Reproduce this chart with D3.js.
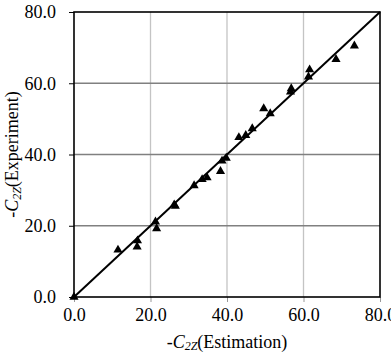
<!DOCTYPE html>
<html>
<head>
<meta charset="utf-8">
<script src="https://cdn.jsdelivr.net/npm/d3@7"></script>
<style>
  body { margin: 0; background: #fff; }
  svg text { font-family: "Liberation Serif", "Times New Roman", serif; fill: #000; }
</style>
</head>
<body>
<div id="chart"></div>
<script>
const estimation = [0.0, 11.5, 16.5, 16.6, 21.3, 21.6, 26.2, 26.5, 31.4, 33.5, 34.8, 38.3, 38.7, 39.8,
    43.1, 44.9, 46.6, 49.6, 51.3, 56.6, 56.8, 61.3, 61.6, 68.5, 73.3];
const experiment = [0.0, 13.2, 14.1, 15.8, 21.1, 19.2, 25.9, 25.5, 31.3, 33.0, 33.5, 35.3, 38.2, 39.0,
    44.8, 45.4, 47.3, 52.9, 51.5, 57.6, 58.5, 61.8, 63.8, 66.7, 70.5];
const tickValues = [0, 20, 40, 60, 80];
const fitLine = [[0, 0], [80, 80]];

function createScatter(elementId) {
    const margin = { top: 12, right: 11, bottom: 56, left: 74 };
    const width = 391 - margin.left - margin.right;
    const height = 353 - margin.top - margin.bottom;

    const svg = d3.select(`#${elementId}`)
        .append("svg")
        .attr("width", width + margin.left + margin.right)
        .attr("height", height + margin.top + margin.bottom);

    const g = svg.append("g")
        .attr("transform", `translate(${margin.left},${margin.top})`);

    const x = d3.scaleLinear().domain([0, 80]).range([0, width]);
    const y = d3.scaleLinear().domain([0, 80]).range([height, 0]);

    // grid
    g.selectAll(".vgrid")
        .data(tickValues.slice(1, -1))
        .enter().append("line")
        .attr("x1", d => x(d)).attr("x2", d => x(d))
        .attr("y1", 0).attr("y2", height)
        .style("stroke", "#c4c4c4")
        .style("stroke-width", 1.3);

    g.selectAll(".hgrid")
        .data(tickValues.slice(1, -1))
        .enter().append("line")
        .attr("y1", d => y(d)).attr("y2", d => y(d))
        .attr("x1", 0).attr("x2", width)
        .style("stroke", "#808080")
        .style("stroke-width", 1.3);

    // axes
    const xAxis = g.append("g")
        .attr("transform", `translate(0,${height})`)
        .call(d3.axisBottom(x).tickValues(tickValues).tickFormat(d3.format(".1f")).tickSize(5).tickPadding(6));
    const yAxis = g.append("g")
        .call(d3.axisLeft(y).tickValues(tickValues).tickFormat(d3.format(".1f")).tickSize(5).tickPadding(13));

    [xAxis, yAxis].forEach(a => {
        a.select(".domain").remove();
        a.selectAll("line").style("stroke", "#000");
        a.selectAll("text").style("font-size", "18px").style("font-family", "'Liberation Serif', serif");
    });
    xAxis.selectAll(".tick line").style("stroke", "#999");

    // frame
    g.append("rect")
        .attr("width", width).attr("height", height)
        .style("fill", "none")
        .style("stroke", "#000")
        .style("stroke-width", 1.6);

    // 1:1 line
    g.append("path")
        .datum(fitLine)
        .attr("d", d3.line().x(d => x(d[0])).y(d => y(d[1])))
        .style("fill", "none")
        .style("stroke", "#000")
        .style("stroke-width", 2);

    // points
    g.selectAll(".pt")
        .data(estimation.map((e, i) => ({ e: e, v: experiment[i] })))
        .enter().append("path")
        .attr("class", "pt")
        .attr("transform", d => `translate(${x(d.e)},${y(d.v)})`)
        .attr("d", d3.symbol().type(d3.symbolTriangle).size(36))
        .style("fill", "#000");

    // labels
    const xl = svg.append("text")
        .attr("x", margin.left + width / 2)
        .attr("y", 348)
        .attr("text-anchor", "middle")
        .style("font-size", "18px");
    xl.append("tspan").text("-");
    xl.append("tspan").style("font-style", "italic").text("C");
    xl.append("tspan").style("font-style", "italic").style("font-size", "12px").attr("dy", 2).text("2Z");
    xl.append("tspan").attr("dy", -2).text("(Estimation)");

    const yl = svg.append("text")
        .attr("transform", `translate(18,${margin.top + height / 2}) rotate(-90)`)
        .attr("text-anchor", "middle")
        .style("font-size", "18px");
    yl.append("tspan").text("-");
    yl.append("tspan").style("font-style", "italic").text("C");
    yl.append("tspan").style("font-style", "italic").style("font-size", "12px").attr("dy", 3).text("2Z");
    yl.append("tspan").attr("dy", -3).text("(Experiment)");
}

createScatter("chart");
</script>
</body>
</html>
